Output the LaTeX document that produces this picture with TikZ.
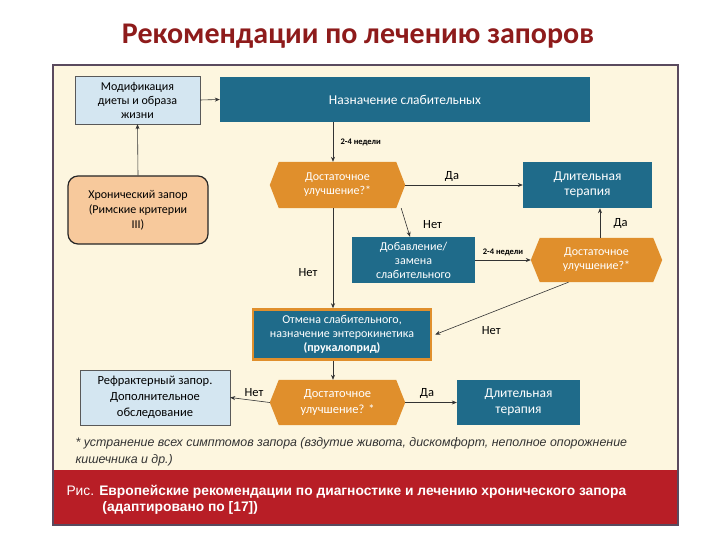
\documentclass[tikz,border=0pt]{standalone}
\usepackage{fontspec}
\setmainfont{Carlito}
\newfontfamily\capfont{Liberation Sans}
\usetikzlibrary{arrows.meta}
\definecolor{teal1}{HTML}{1F6B8A}
\definecolor{lblue}{HTML}{D4E6F1}
\definecolor{peach}{HTML}{F7C99C}
\definecolor{orng}{HTML}{E08F2C}
\definecolor{cream}{HTML}{FDF6DF}
\definecolor{capred}{HTML}{B81E26}
\definecolor{titred}{HTML}{8E1B1B}
\definecolor{frame}{HTML}{5A4A5E}
\begin{document}
\begin{tikzpicture}[x=1pt,y=-1pt,
  tbox/.style={fill=teal1,text=white,align=center,font=\fontsize{12}{14}\selectfont,inner sep=0},
  lbox/.style={fill=lblue,draw=gray!70!black,align=center,font=\fontsize{12}{14}\selectfont,inner sep=0},
  hex/.style={text=white,align=center,font=\fontsize{12}{14}\selectfont,inner sep=0},
  arr/.style={draw=gray!40!black,-{Stealth[length=5pt,width=4pt]},line width=0.6pt},
  lab/.style={font=\fontsize{12.5}{14}\selectfont,text=black},
  wk/.style={font=\bfseries\fontsize{8.5}{10}\selectfont,text=black}]
\useasboundingbox (0,0) rectangle (720,540);
\fill[white] (0,0) rectangle (720,540);
\node[font=\bfseries\fontsize{30}{32}\selectfont,text=titred] (title) at (358,36) {Рекомендации по лечению запоров};
\fill[cream] (53,65) rectangle (678,525);
\fill[capred] (53,470) rectangle (678,525);
\draw[frame,line width=1.2pt] (53,65) rectangle (678,525);
% nodes
\node[lbox,minimum width=125,minimum height=48] (mod) at (137.5,100) {Модификация\\диеты и образа\\жизни};
\node[tbox,minimum width=370,minimum height=45,font=\fontsize{13.5}{15}\selectfont] (main) at (405,99.5) {Назначение слабительных};
\node[draw=gray!30!black,line width=1.2pt,fill=peach,rounded corners=10pt,minimum width=140,minimum height=68,align=center,font=\fontsize{12}{15}\selectfont,inner sep=0] (chron) at (138,210) {Хронический запор\\(Римские критерии\\III)};
\newcommand\hexdraw[1]{\fill[orng] (#1.west) -- ([xshift=9]#1.north west) -- ([xshift=-9]#1.north east) -- (#1.east) -- ([xshift=-9]#1.south east) -- ([xshift=9]#1.south west) -- cycle;}
\node[hex,minimum width=135,minimum height=46] (d1) at (337.5,185) {\phantom{x}};
\hexdraw{d1}
\node[hex] at (d1) {Достаточное\\улучшение?*};
\node[tbox,minimum width=129,minimum height=46,font=\fontsize{13.5}{15}\selectfont] (lt1) at (587.5,185) {Длительная\\терапия};
\node[tbox,minimum width=123,minimum height=46] (add) at (413.5,260) {Добавление/\\замена\\слабительного};
\node[hex,minimum width=131,minimum height=44] (d2) at (596.5,260) {\phantom{x}};
\hexdraw{d2}
\node[hex] at (d2) {Достаточное\\улучшение?*};
\node[tbox,draw=orng,line width=2.5pt,minimum width=178,minimum height=50] (canc) at (342,334.5) {Отмена слабительного,\\назначение энтерокинетика\\\textbf{(прукалоприд)}};
\node[lbox,minimum width=150,minimum height=55,font=\fontsize{12.5}{16}\selectfont] (refr) at (155,397.5) {Рефрактерный запор.\\Дополнительное\\обследование};
\node[hex,minimum width=135,minimum height=45] (d3) at (337.5,402.5) {\phantom{x}};
\hexdraw{d3}
\node[hex,font=\fontsize{12.5}{16}\selectfont] at (d3) {Достаточное\\улучшение? *};
\node[tbox,minimum width=123,minimum height=45,font=\fontsize{13.5}{16}\selectfont] (lt2) at (518.5,402.5) {Длительная\\терапия};
% arrows
\draw[arr] (mod.east) -- (main.west);
\draw[arr] (chron.north) -- (mod.south);
\draw[arr] (main.south -| 333,0) -- node[wk,right,xshift=4pt]{2-4 недели} (d1.north -| 333,0);
\draw[arr] (d1.east) -- node[lab,above,xshift=-12pt]{Да} (lt1.west);
\draw[arr] ([xshift=-4]d1.south east) -- node[lab,right,xshift=14pt,yshift=-2pt]{Нет} (add.north -| 410,0);
\draw[arr] (add.east) -- node[wk,above]{2-4 недели} (d2.west);
\draw[arr] (d2.north -| 600,0) -- node[lab,right,xshift=10pt]{Да} (lt1.south -| 600,0);
\draw[arr] (d1.south -| 333,0) -- node[lab,left,xshift=-12pt,yshift=-14pt]{Нет} (canc.north -| 333,0);
\draw[arr] ([xshift=-28]d2.south) -- node[lab,pos=0.55,below,yshift=-12pt,xshift=-4pt]{Нет} ([xshift=3]canc.east);
\draw[arr] (canc.south -| 333,0) -- (d3.north -| 333,0);
\draw[arr] (d3.west) -- node[lab,above,xshift=4pt]{Нет} (refr.east);
\draw[arr] (d3.east) -- node[lab,above,xshift=-4pt]{Да} (lt2.west);
% footnote and caption
\node[anchor=west,align=left,font=\capfont\itshape\fontsize{12.4}{17}\selectfont,text=black!80] (fn) at (72,452) {* устранение всех симптомов запора (вздутие живота, дискомфорт, неполное опорожнение\\кишечника и др.)};
\node[anchor=north west,align=left,font=\capfont\fontsize{13.8}{16}\selectfont,text=white] (cap) at (63,482) {Рис. \textbf{Европейские рекомендации по диагностике и лечению хронического запора}\\\hspace*{2.6em}\textbf{(адаптировано по [17])}};
\end{tikzpicture}
\end{document}
